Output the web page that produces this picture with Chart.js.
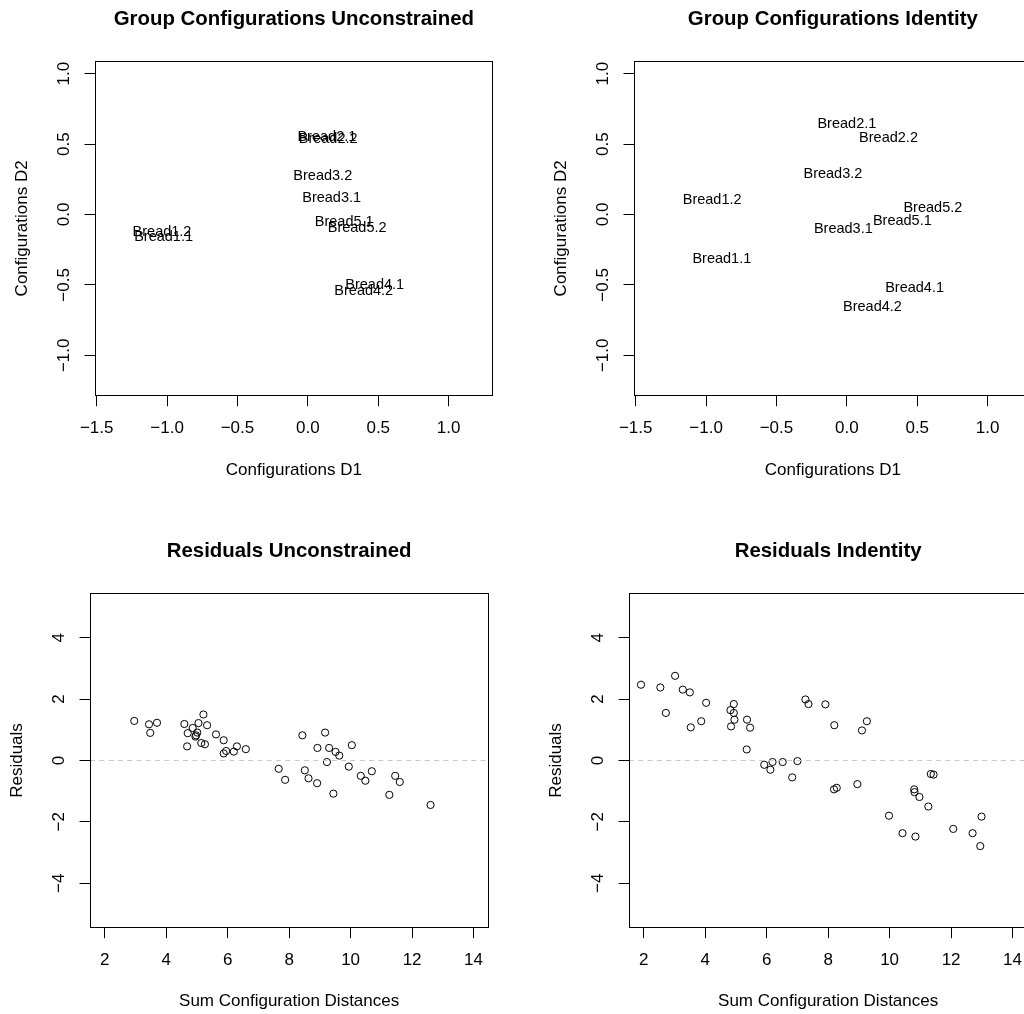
<!DOCTYPE html>
<html>
<head>
<meta charset="utf-8">
<script src="https://cdn.jsdelivr.net/npm/chart.js@4.4.1/dist/chart.umd.min.js"></script>
<style>
html, body { margin: 0; padding: 0; background: #fff; overflow: hidden; }
#wrap { position: relative; width: 1078px; height: 1064px; background: #fff; }
#wrap canvas { position: absolute; }
</style>
</head>
<body>
<div id="wrap">
  <canvas id="c1" width="539" height="532" style="left:0px;top:0px"></canvas>
  <canvas id="c2" width="539" height="532" style="left:539px;top:0px"></canvas>
  <canvas id="c3" width="539" height="532" style="left:0px;top:532px"></canvas>
  <canvas id="c4" width="539" height="532" style="left:539px;top:532px"></canvas>
</div>
<script>
// ---------- data ----------
const breadLabels = ["Bread1.1","Bread1.2","Bread2.1","Bread2.2","Bread3.1","Bread3.2","Bread4.1","Bread4.2","Bread5.1","Bread5.2"];
const unconD1 = [-1.025, -1.036, 0.135, 0.144, 0.169, 0.106, 0.475, 0.397, 0.258, 0.350];
const unconD2 = [-0.161, -0.124, 0.553, 0.534, 0.117, 0.273, -0.503, -0.541, -0.053, -0.094];
const identD1 = [-0.888, -0.957, 0.000, 0.296, -0.025, -0.099, 0.481, 0.182, 0.394, 0.611];
const identD2 = [-0.318, 0.100, 0.642, 0.543, -0.100, 0.287, -0.524, -0.659, -0.048, 0.045];

const configXLim = [-1.512, 1.313];
const configYLim = [-1.287, 1.090];
const configTicksX = [-1.5, -1.0, -0.5, 0.0, 0.5, 1.0];
const configTickLabelsX = ["\u22121.5", "\u22121.0", "\u22120.5", "0.0", "0.5", "1.0"];
const configTicksY = [-1.0, -0.5, 0.0, 0.5, 1.0];
const configTickLabelsY = ["\u22121.0", "\u22120.5", "0.0", "0.5", "1.0"];

const residXLim = [1.52, 14.48];
const residYLim = [-5.45, 5.45];
const residTicksX = [2, 4, 6, 8, 10, 12, 14];
const residTickLabelsX = ["2", "4", "6", "8", "10", "12", "14"];
const residTicksY = [-4, -2, 0, 2, 4];
const residTickLabelsY = ["\u22124", "\u22122", "0", "2", "4"];
const refLineY = 0;

const residUnconX = [2.96, 3.44, 3.70, 3.48, 4.59, 5.21, 5.05, 5.33, 4.86, 4.70, 5.01, 4.97, 4.95, 4.68, 5.14,
  5.26, 5.62, 5.87, 6.30, 5.95, 5.87, 6.20, 6.59, 8.43, 8.92, 7.66, 7.87, 8.51, 8.63, 8.91,
  9.17, 9.30, 9.51, 9.63, 10.04, 9.23, 9.94, 9.44, 10.33, 10.48, 10.69, 11.45, 11.60, 11.26, 12.60];
const residUnconY = [1.29, 1.18, 1.23, 0.90, 1.19, 1.50, 1.22, 1.15, 1.06, 0.89, 0.91, 0.82, 0.78, 0.46, 0.57,
  0.53, 0.85, 0.66, 0.46, 0.31, 0.23, 0.29, 0.37, 0.82, 0.41, -0.27, -0.63, -0.32, -0.58, -0.74,
  0.91, 0.41, 0.28, 0.16, 0.50, -0.05, -0.20, -1.08, -0.50, -0.66, -0.35, -0.50, -0.70, -1.12, -1.45];

const residIdentX = [1.91, 2.54, 3.02, 3.27, 3.50, 2.72, 4.03, 3.53, 3.87, 4.93, 4.82, 4.93, 4.95, 4.84, 5.36,
  5.46, 5.35, 7.26, 7.36, 7.91, 8.20, 5.92, 6.19, 6.12, 6.52, 7.00, 6.83, 9.26, 9.10, 11.34,
  11.43, 8.19, 8.28, 8.95, 10.80, 10.81, 10.97, 11.26, 9.98, 10.42, 10.84, 12.07, 12.70, 12.99, 12.95];
const residIdentY = [2.47, 2.38, 2.76, 2.31, 2.22, 1.55, 1.88, 1.08, 1.28, 1.84, 1.64, 1.55, 1.33, 1.11, 1.33,
  1.07, 0.36, 1.99, 1.84, 1.83, 1.15, -0.14, -0.05, -0.30, -0.05, -0.02, -0.55, 1.28, 0.98, -0.44,
  -0.46, -0.94, -0.89, -0.77, -0.94, -1.03, -1.19, -1.50, -1.80, -2.37, -2.48, -2.23, -2.37, -1.83, -2.79];

// ---------- styling helpers ----------
const FONT = '"Liberation Sans", Arial, Helvetica, sans-serif';
const toXY = (xs, ys) => xs.map((x, i) => ({ x: x, y: ys[i] }));

const boxPlugin = {
  id: 'rbox',
  afterDraw(chart) {
    const { ctx, chartArea: a } = chart;
    const al = p => Math.round(p - 0.5) + 0.5;
    ctx.save();
    ctx.strokeStyle = '#000';
    ctx.lineWidth = 1;
    ctx.strokeRect(al(a.left), al(a.top), al(a.right) - al(a.left), al(a.bottom) - al(a.top));
    ctx.restore();
  }
};

const pointLabelPlugin = {
  id: 'ptlabels',
  afterDatasetsDraw(chart) {
    const ctx = chart.ctx;
    chart.data.datasets.forEach((ds, di) => {
      if (!ds.pointLabels) return;
      const meta = chart.getDatasetMeta(di);
      ctx.save();
      ctx.font = '14.5px ' + FONT;
      ctx.textAlign = 'center';
      ctx.textBaseline = 'middle';
      ctx.fillStyle = '#000';
      meta.data.forEach((el, i) => ctx.fillText(ds.pointLabels[i], el.x, el.y));
      ctx.restore();
    });
  }
};

function xAxis(lim, ticksArr, tickLbl, title, p) {
  return {
    type: 'linear', position: 'bottom', min: lim[0], max: lim[1], bounds: 'data',
    afterBuildTicks: s => { s.ticks = ticksArr.map(v => ({ value: v })); },
    afterFit: s => { s.height = p.h; },
    grid: { display: true, drawOnChartArea: false, drawTicks: true, tickLength: 10.5, color: '#000', lineWidth: 1 },
    border: { display: false },
    ticks: { autoSkip: false, minRotation: 0, maxRotation: 0, padding: p.tp, color: '#000',
      font: { family: FONT, size: 17 }, callback: (v, i) => tickLbl[i] },
    title: { display: true, text: title, color: '#000', font: { family: FONT, size: 17 },
      padding: { top: 0, bottom: p.tb } }
  };
}

function yAxis(lim, ticksArr, tickLbl, title, p) {
  return {
    type: 'linear', position: 'left', min: lim[0], max: lim[1], bounds: 'data',
    afterBuildTicks: s => { s.ticks = ticksArr.map(v => ({ value: v })); },
    afterFit: s => { s.width = p.w; },
    grid: { display: true, drawOnChartArea: false, drawTicks: true, tickLength: 10.5, color: '#000', lineWidth: 1 },
    border: { display: false },
    ticks: { autoSkip: false, minRotation: 90, maxRotation: 90, crossAlign: 'center', padding: p.tp, color: '#000',
      font: { family: FONT, size: 17 }, callback: (v, i) => tickLbl[i] },
    title: { display: true, text: title, color: '#000', font: { family: FONT, size: 17 },
      padding: { top: p.tt, bottom: 0 } }
  };
}

function baseOptions(mainTitle, lay, scales) {
  return {
    responsive: false, animation: false, devicePixelRatio: 1, events: [],
    layout: { padding: { left: 0, right: lay.right, top: 0, bottom: lay.bottom } },
    plugins: {
      legend: { display: false },
      tooltip: { enabled: false },
      title: { display: true, text: mainTitle, fullSize: false, color: '#000',
        font: { family: FONT, size: 20.4, weight: 'bold' }, padding: { top: lay.tt, bottom: lay.tb } }
    },
    scales: scales
  };
}

// ---------- configuration plots ----------
function configChart(id, title, xs, ys) {
  new Chart(document.getElementById(id), {
    type: 'scatter',
    data: { datasets: [{ data: toXY(xs, ys), pointLabels: breadLabels, pointRadius: 0, showLine: false }] },
    options: baseOptions(title, { right: 46.3, bottom: 36.3, tt: 7.6, tb: 28.92 }, {
      x: xAxis(configXLim, configTicksX, configTickLabelsX, 'Configurations D1', { h: 100, tp: 11.7, tb: 14.7 }),
      y: yAxis(configYLim, configTicksY, configTickLabelsY, 'Configurations D2', { w: 95, tp: 3.6, tt: 12 })
    }),
    plugins: [boxPlugin, pointLabelPlugin]
  });
}

// ---------- residual plots ----------
function residChart(id, title, xs, ys) {
  new Chart(document.getElementById(id), {
    type: 'scatter',
    data: { datasets: [
      { type: 'line', data: [{ x: residXLim[0], y: refLineY }, { x: residXLim[1], y: refLineY }],
        borderColor: '#c8c8c8', borderWidth: 1, borderDash: [5, 4.3], pointRadius: 0, fill: false },
      { data: toXY(xs, ys), pointStyle: 'circle', pointRadius: 3.6, borderWidth: 1,
        borderColor: '#000', backgroundColor: 'rgba(0,0,0,0)' }
    ] },
    options: baseOptions(title, { right: 50.7, bottom: 36.3, tt: 7.2, tb: 29.62 }, {
      x: xAxis(residXLim, residTicksX, residTickLabelsX, 'Sum Configuration Distances', { h: 100, tp: 12.2, tb: 16.2 }),
      y: yAxis(residYLim, residTicksY, residTickLabelsY, 'Residuals', { w: 90, tp: 10.3, tt: 7 })
    }),
    plugins: [boxPlugin]
  });
}

configChart('c1', 'Group Configurations Unconstrained', unconD1, unconD2);
configChart('c2', 'Group Configurations Identity', identD1, identD2);
residChart('c3', 'Residuals Unconstrained', residUnconX, residUnconY);
residChart('c4', 'Residuals Indentity', residIdentX, residIdentY);
</script>
</body>
</html>
